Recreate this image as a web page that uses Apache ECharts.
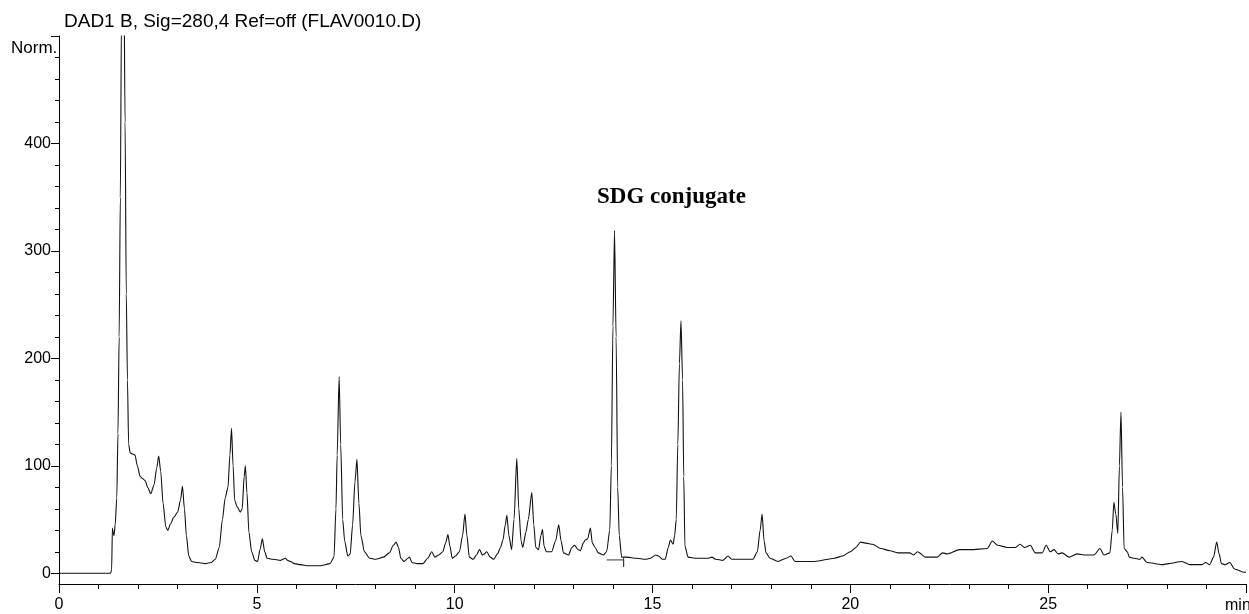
<!DOCTYPE html>
<html>
<head>
<meta charset="utf-8">
<script src="https://cdn.jsdelivr.net/npm/echarts@6/dist/echarts.min.js"></script>
<style>
html,body{margin:0;padding:0;background:#fff;}
#chart{width:1249px;height:614px;}
</style>
</head>
<body>
<div id="chart"></div>
<script>
const titleText = 'DAD1 B, Sig=280,4 Ref=off (FLAV0010.D)';
const yUnit = 'Norm.';
const xUnit = 'min';
const peakLabel = 'SDG conjugate';
const xTickLabels = ['0', '5', '10', '15', '20', '25'];
const yTickLabels = ['0', '100', '200', '300', '400'];

const times = [
  0, 1.30, 1.33, 1.35, 1.37, 1.39, 1.42, 1.46, 1.49, 1.52, 1.55, 1.58, 1.61, 1.64, 1.67, 1.70, 1.73, 1.76, 1.80, 1.86,
  1.92, 1.98, 2.05, 2.12, 2.18, 2.24, 2.32, 2.40, 2.47, 2.52, 2.57, 2.63, 2.70, 2.75, 2.82, 2.90, 3.00, 3.07, 3.12, 3.17,
  3.22, 3.28, 3.35, 3.50, 3.70, 3.85, 3.95, 4.05, 4.13, 4.20, 4.27, 4.32, 4.36, 4.40, 4.44, 4.50, 4.58, 4.63, 4.68, 4.71,
  4.75, 4.80, 4.87, 4.95, 5.02, 5.08, 5.14, 5.20, 5.26, 5.40, 5.60, 5.72, 5.78, 5.85, 5.95, 6.10, 6.30, 6.60, 6.85, 6.95,
  7.00, 7.03, 7.08, 7.12, 7.17, 7.22, 7.30, 7.36, 7.42, 7.48, 7.53, 7.58, 7.63, 7.72, 7.85, 8.00, 8.20, 8.35, 8.45, 8.52,
  8.58, 8.64, 8.72, 8.82, 8.86, 8.92, 9.05, 9.20, 9.32, 9.42, 9.50, 9.60, 9.70, 9.77, 9.83, 9.88, 9.94, 10.02, 10.12, 10.20,
  10.26, 10.31, 10.37, 10.47, 10.55, 10.63, 10.70, 10.75, 10.81, 10.90, 10.99, 11.08, 11.16, 11.22, 11.28, 11.32, 11.37, 11.44, 11.50, 11.57,
  11.62, 11.68, 11.72, 11.80, 11.86, 11.95, 12.00, 12.05, 12.12, 12.18, 12.22, 12.26, 12.32, 12.45, 12.55, 12.63, 12.69, 12.75, 12.88, 12.96,
  13.03, 13.12, 13.18, 13.25, 13.30, 13.36, 13.43, 13.48, 13.55, 13.63, 13.76, 13.84, 13.92, 13.96, 14.00, 14.04, 14.08, 14.12, 14.16, 14.22,
  14.35, 14.60, 14.82, 14.95, 15.08, 15.15, 15.25, 15.32, 15.40, 15.45, 15.52, 15.56, 15.60, 15.64, 15.68, 15.72, 15.76, 15.79, 15.82, 15.90,
  16.10, 16.40, 16.50, 16.60, 16.78, 16.91, 17.00, 17.30, 17.54, 17.65, 17.72, 17.77, 17.82, 17.87, 17.97, 18.17, 18.38, 18.50, 18.60, 19.10,
  19.60, 19.80, 20.00, 20.14, 20.26, 20.40, 20.56, 20.77, 21.00, 21.20, 21.50, 21.60, 21.70, 21.90, 22.20, 22.33, 22.45, 22.76, 23.04, 23.46,
  23.59, 23.72, 23.97, 24.17, 24.29, 24.40, 24.55, 24.67, 24.85, 24.95, 25.05, 25.15, 25.25, 25.35, 25.53, 25.73, 25.95, 26.16, 26.31, 26.41,
  26.56, 26.62, 26.66, 26.71, 26.76, 26.80, 26.84, 26.88, 26.92, 27.00, 27.05, 27.17, 27.32, 27.37, 27.50, 27.87, 28.05, 28.38, 28.58, 28.88,
  28.98, 29.08, 29.18, 29.26, 29.32, 29.38, 29.48, 29.59, 29.71, 29.94, 30.00
];
const signal = [
  0, 0, 3, 42, 38, 35, 45, 70, 130, 220, 350, 520, 600, 560, 420, 260, 180, 120, 112, 111,
  110, 100, 90, 88, 86, 80, 74, 82, 98, 109, 95, 65, 43, 40, 46, 52, 57, 68, 81, 60,
  35, 16, 11, 10, 9, 10, 13, 24, 50, 70, 80, 110, 135, 100, 68, 62, 57, 60, 90, 100,
  75, 38, 20, 12, 11, 22, 32, 20, 14, 13, 12, 14, 12, 11, 9, 8, 7, 7, 9, 15,
  60, 110, 183, 120, 50, 30, 16, 18, 45, 85, 106, 65, 35, 20, 14, 13, 15, 19, 26, 29,
  24, 14, 11, 14, 15, 10, 9, 9, 14, 20, 15, 17, 20, 28, 36, 25, 14, 16, 20, 35,
  55, 35, 15, 13, 17, 22, 17, 18, 20, 15, 13, 18, 24, 31, 45, 54, 35, 22, 50, 107,
  60, 30, 24, 38, 50, 75, 45, 24, 22, 35, 41, 25, 20, 20, 30, 45, 30, 19, 17, 24,
  26, 22, 21, 28, 31, 32, 42, 28, 24, 19, 17, 20, 40, 100, 230, 319, 220, 80, 35, 15,
  15, 14, 13, 14, 17, 16, 13, 13, 24, 31, 27, 35, 50, 120, 195, 235, 180, 90, 25, 15,
  14, 14, 15, 13, 12, 16, 13, 13, 13, 20, 40, 55, 30, 19, 14, 11, 14, 16, 11, 11,
  14, 16, 20, 24, 29, 28, 27, 23, 21, 19, 19, 17, 20, 15, 15, 19, 18, 22, 22, 23,
  30, 26, 24, 24, 27, 24, 26, 19, 19, 26, 20, 22, 18, 19, 15, 18, 17, 17, 23, 17,
  19, 40, 66, 55, 37, 100, 150, 80, 23, 20, 15, 14, 13, 15, 10, 8, 9, 11, 8, 8,
  10, 8, 15, 29, 18, 9, 8, 10, 4, 1, 1
];
// integration baseline marker drawn under the SDG peak
const baseTimes = [13.84, 14.27, 14.27, 14.27];
const baseValues = [12.4, 12.4, 6, 15];

const traceData = times.map((t, i) => [t, signal[i]]);
const baseData = baseTimes.map((t, i) => [t, baseValues[i]]);

const FONT = '"Liberation Sans", Arial, sans-serif';
const chart = echarts.init(document.getElementById('chart'), null, {renderer: 'canvas'});
chart.setOption({
  animation: false,
  backgroundColor: '#ffffff',
  grid: [
    {left: 59, right: 0, top: 36, bottom: 30, containLabel: false},
    {left: 59, right: 0, top: 36, bottom: 40.7, containLabel: false}
  ],
  xAxis: [
    {
      gridIndex: 0, type: 'value', min: 0, max: 30, interval: 5,
      axisLine: {show: true, onZero: false, lineStyle: {color: '#000', width: 1}},
      axisTick: {show: true, length: 9, lineStyle: {color: '#000', width: 1}},
      minorTick: {show: true, splitNumber: 5, length: 5, lineStyle: {color: '#000', width: 1}},
      splitLine: {show: false},
      axisLabel: {
        margin: 13, color: '#000', fontSize: 16, fontFamily: FONT,
        formatter: v => xTickLabels.includes(String(v)) ? String(v) : ''
      }
    },
    {gridIndex: 1, type: 'value', min: 0, max: 30, show: false}
  ],
  yAxis: [
    {
      gridIndex: 0, type: 'value', min: -10, max: 500,
      axisLine: {show: true, onZero: false, lineStyle: {color: '#000', width: 1}},
      axisTick: {show: false}, axisLabel: {show: false}, splitLine: {show: false}
    },
    {
      gridIndex: 1, type: 'value', min: 0, max: 500, interval: 100,
      axisLine: {show: false},
      axisTick: {show: true, length: 8, lineStyle: {color: '#000', width: 1}},
      minorTick: {show: true, splitNumber: 5, length: 4, lineStyle: {color: '#000', width: 1}},
      splitLine: {show: false},
      axisLabel: {
        margin: 8, color: '#000', fontSize: 16, fontFamily: FONT,
        formatter: v => yTickLabels.includes(String(v)) ? String(v) : ''
      }
    }
  ],
  series: [
    {
      type: 'line', xAxisIndex: 0, yAxisIndex: 0, data: traceData,
      showSymbol: false, symbol: 'none', clip: true,
      smooth: 0.25, smoothMonotone: 'x',
      lineStyle: {color: '#111', width: 1.1}
    },
    {
      type: 'line', xAxisIndex: 0, yAxisIndex: 0, data: baseData,
      showSymbol: false, symbol: 'none', clip: true,
      lineStyle: {color: '#333', width: 1}
    }
  ],
  graphic: [
    {type: 'text', left: 64, top: 12, style: {text: titleText, font: '19px ' + FONT, fill: '#000'}},
    {type: 'text', left: 11, top: 40, style: {text: yUnit, font: '17px ' + FONT, fill: '#000'}},
    {type: 'text', left: 1225, top: 598, style: {text: xUnit, font: '16px ' + FONT, fill: '#000'}},
    {type: 'text', left: 597, top: 186, style: {text: peakLabel, font: 'bold 23px "Liberation Serif", "Times New Roman", serif', fill: '#000'}}
  ]
});
</script>
</body>
</html>
